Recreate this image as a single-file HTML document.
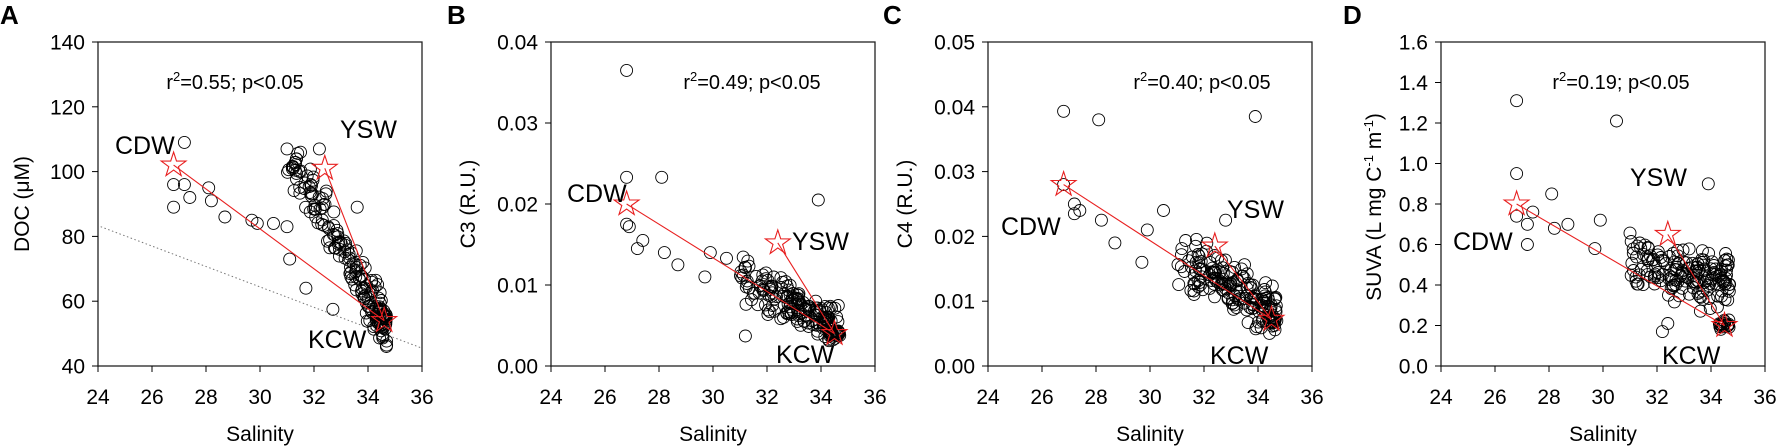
<!DOCTYPE html>
<html><head><meta charset="utf-8"><style>
body{margin:0;background:#fff;}
svg{display:block;font-family:"Liberation Sans",Arial,sans-serif;}
</style></head><body>
<svg id="s" width="1780" height="448" xmlns="http://www.w3.org/2000/svg"></svg>
<script>
var S=document.getElementById('s');
var seed=7;function rnd(){seed=(seed*16807)%2147483647;return seed/2147483647;}
function gauss(){return (rnd()+rnd()+rnd()-1.5)/1.5;}
var html='';
var W=324,Y0=42,H=324;
var panels=[
{L:'A',lx:0,ox:98,ylx:22,ymin:40,ymax:140,step:20,dec:0,ylab:'DOC (\u03bcM)',r2:'0.55',
 out:[[26.8,89],[26.8,96],[27.2,109],[27.2,96],[27.4,92],[28.1,95],[28.2,91],[28.7,86],[29.7,85],[29.9,84],[30.5,84],[31,83],[31.1,73],[32.7,57.5],[31.7,64],[33.6,89],[32.2,107],[31.5,106]],
 cl:function(s){return 103-(s-31.3)*15.5+gauss()*12;},lo:46,hi:107,
 stars:[[26.8,102],[32.4,101],[34.6,54]],dot:[[24.1,83],[36,45.5]],
 tx:[['CDW',115,154],['YSW',340,138],['KCW',308,348]],r2x:235},
{L:'B',lx:447,ox:551,ylx:468,ymin:0,ymax:0.04,step:0.01,dec:2,ylab:'C3 (R.U.)',r2:'0.49',
 out:[[26.8,0.0365],[26.8,0.0233],[26.8,0.0175],[26.9,0.0172],[27.2,0.0145],[27.4,0.0155],[28.1,0.0233],[28.2,0.014],[28.7,0.0125],[29.7,0.011],[29.9,0.014],[30.5,0.0133],[33.9,0.0205],[31.2,0.0037]],
 cl:function(s){return 0.011-(s-31)*0.0017+gauss()*0.0035;},lo:0.003,hi:0.0145,
 stars:[[26.8,0.020],[32.4,0.0152],[34.5,0.004]],
 tx:[['CDW',567,202],['YSW',792,250],['KCW',776,363]],r2x:752},
{L:'C',lx:883,ox:988,ylx:905,ymin:0,ymax:0.05,step:0.01,dec:2,ylab:'C4 (R.U.)',r2:'0.40',
 out:[[26.8,0.0393],[28.1,0.038],[33.9,0.0385],[26.8,0.028],[27.2,0.0235],[27.2,0.025],[27.4,0.024],[28.2,0.0225],[28.7,0.019],[29.7,0.016],[29.9,0.021],[30.5,0.024],[32.8,0.0225]],
 cl:function(s){return 0.0165-(s-31)*0.0022+gauss()*0.006;},lo:0.005,hi:0.0235,
 stars:[[26.8,0.028],[32.4,0.0185],[34.5,0.0072]],
 tx:[['CDW',1001,235],['YSW',1227,218],['KCW',1210,364]],r2x:1202},
{L:'D',lx:1343,ox:1441,ylx:1370,ymin:0,ymax:1.6,step:0.2,dec:1,ylab:'',r2:'0.19',
 out:[[26.8,1.31],[26.8,0.95],[30.5,1.21],[33.9,0.9],[26.8,0.74],[27.2,0.6],[27.2,0.7],[27.4,0.76],[28.1,0.85],[28.2,0.68],[28.7,0.7],[29.7,0.58],[29.9,0.72],[32.2,0.17],[32.4,0.21]],
 cl:function(s){return 0.52-(s-31)*0.03+gauss()*0.2;},lo:0.15,hi:0.8,
 stars:[[26.8,0.8],[32.4,0.65],[34.5,0.2]],
 tx:[['CDW',1453,250],['YSW',1630,186],['KCW',1662,364]],r2x:1621}
];
panels.forEach(function(p,i){
 var ox=p.ox;
 function px(s){return ox+(s-24)/12*W;}
 function py(v){return Y0+H-(v-p.ymin)/(p.ymax-p.ymin)*H;}
 html+='<text x="'+p.lx+'" y="24" font-size="26" font-weight="bold">'+p.L+'</text>';
 html+='<rect x="'+ox+'" y="'+Y0+'" width="'+W+'" height="'+H+'" fill="none" stroke="#222" stroke-width="1.3"/>';
 for(var s=24;s<=36;s+=2){var x=px(s);html+='<line x1="'+x+'" x2="'+x+'" y1="'+(Y0+H)+'" y2="'+(Y0+H+6)+'" stroke="#000"/><text x="'+x+'" y="404" font-size="21" text-anchor="middle">'+s+'</text>';}
 for(var v=p.ymin;v<=p.ymax+1e-9;v+=p.step){var y=py(v);html+='<line x1="'+(ox-6)+'" x2="'+ox+'" y1="'+y+'" y2="'+y+'" stroke="#000"/><text x="'+(ox-13)+'" y="'+(y+7.5)+'" font-size="21" text-anchor="end">'+v.toFixed(p.dec)+'</text>';}
 html+='<text x="'+(ox+W/2)+'" y="441" font-size="21" text-anchor="middle">Salinity</text>';
 var lx=p.ylx+7, ly=Y0+H/2;
 if(p.ylab) html+='<text transform="translate('+lx+','+ly+') rotate(-90)" font-size="21" text-anchor="middle">'+p.ylab+'</text>';
 else html+='<text transform="translate('+(lx+4)+','+(ly+3)+') rotate(-90)" font-size="21" text-anchor="middle">SUVA (L mg C<tspan font-size="13" dy="-8">-1</tspan><tspan dy="8"> m</tspan><tspan font-size="13" dy="-8">-1</tspan><tspan dy="8">)</tspan></text>';
 html+='<text x="'+p.r2x+'" y="89" font-size="20" text-anchor="middle">r<tspan font-size="13" dy="-8">2</tspan><tspan dy="8">='+p.r2+'; p&lt;0.05</tspan></text>';
 if(p.dot){html+='<line x1="'+px(p.dot[0][0])+'" y1="'+py(p.dot[0][1])+'" x2="'+px(p.dot[1][0])+'" y2="'+py(p.dot[1][1])+'" stroke="#777" stroke-dasharray="1.5,2.5"/>';}
 var pts=p.out.slice();
 for(var k=0;k<170;k++){var s2=31+Math.pow(rnd(),0.8)*3.7;var v2=p.cl(s2);if(v2<p.lo)v2=p.lo+rnd()*(p.hi-p.lo)*0.1;if(v2>p.hi)v2=p.hi-rnd()*(p.hi-p.lo)*0.1;pts.push([s2,v2]);}
 for(var k=0;k<20;k++){pts.push([34.3+rnd()*0.4,p.stars[2][1]+gauss()*(p.hi-p.lo)*0.06]);}
 pts.forEach(function(q){html+='<circle cx="'+px(q[0]).toFixed(1)+'" cy="'+py(q[1]).toFixed(1)+'" r="6" fill="none" stroke="#000" stroke-width="0.9"/>';});
 [[0,2],[1,2]].forEach(function(l){var a=p.stars[l[0]],b=p.stars[l[1]];html+='<line x1="'+px(a[0])+'" y1="'+py(a[1])+'" x2="'+px(b[0])+'" y2="'+py(b[1])+'" stroke="#e82020" stroke-width="1.1"/>';});
 p.stars.forEach(function(st){var cx=px(st[0]),cy=py(st[1]),d='';for(var j=0;j<10;j++){var r=j%2?5:13;var a=-Math.PI/2+j*Math.PI/5;d+=(j?'L':'M')+(cx+r*Math.cos(a)).toFixed(1)+' '+(cy+r*Math.sin(a)).toFixed(1);}html+='<path d="'+d+'Z" fill="none" stroke="#e82020" stroke-width="1.1"/>';});
 p.tx.forEach(function(t){html+='<text x="'+t[1]+'" y="'+t[2]+'" font-size="25">'+t[0]+'</text>';});
});
S.innerHTML=html;
</script>
</body></html>
